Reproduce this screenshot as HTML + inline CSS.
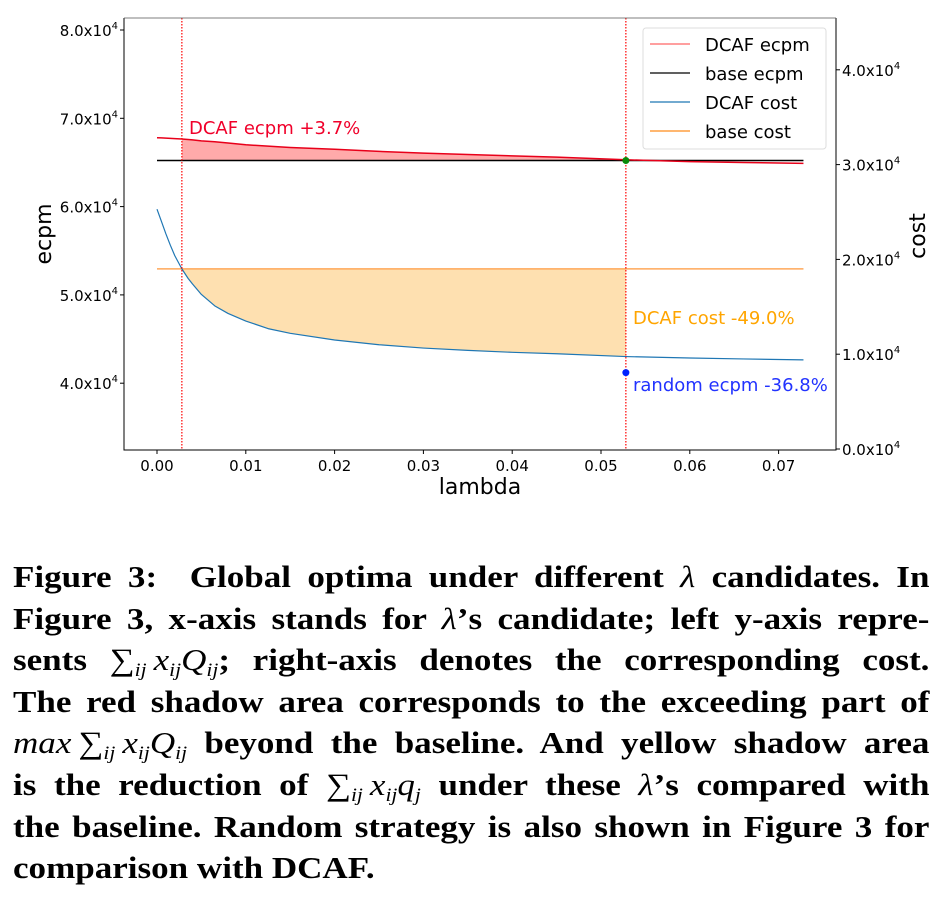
<!DOCTYPE html>
<html><head><meta charset="utf-8">
<style>
body{margin:0;background:#fff;width:946px;height:900px;overflow:hidden;position:relative;}
svg{position:absolute;left:0;top:0;}
.cap{position:absolute;left:13px;width:811px;font-family:"Liberation Serif",serif;font-weight:bold;font-size:31px;line-height:41.6px;top:556px;color:#000;transform:scaleX(1.13);transform-origin:0 0;}
.cap div{text-align:justify;text-align-last:justify;white-space:nowrap;height:41.6px;}
.cap div.last{text-align-last:left;}
.cap i{font-weight:normal;}
.cap sub{font-size:19px;font-style:italic;font-weight:normal;vertical-align:-6px;line-height:0;}
.m{white-space:nowrap;font-weight:normal;}
</style></head>
<body>
<svg id="chart" width="946" height="520"></svg>
<div class="cap">
<div>Figure 3: &nbsp;Global optima under different <i>λ</i> candidates. In</div>
<div>Figure 3, x-axis stands for <i>λ</i>’s candidate; left y-axis repre-</div>
<div>sents <span class="m">∑<sub>ij</sub>&#8201;<i>x</i><sub>ij</sub><i>Q</i><sub>ij</sub></span>; right-axis denotes the corresponding cost.</div>
<div>The red shadow area corresponds to the exceeding part of</div>
<div><span class="m"><i>max</i>&#8201;∑<sub>ij</sub>&#8201;<i>x</i><sub>ij</sub><i>Q</i><sub>ij</sub></span> beyond the baseline. And yellow shadow area</div>
<div>is the reduction of <span class="m">∑<sub>ij</sub>&#8201;<i>x</i><sub>ij</sub><i>q</i><sub>j</sub></span> under these <i>λ</i>’s compared with</div>
<div>the baseline. Random strategy is also shown in Figure 3 for</div>
<div class="last">comparison with DCAF.</div>
</div>
<script>
const lambdas=[0,0.0005,0.001,0.0015,0.002,0.0028,0.0035,0.004,0.005,0.0065,0.008,0.01,0.0125,0.015,0.02,0.025,0.03,0.035,0.04,0.045,0.0528,0.06,0.066,0.0728];
const dcafEcpm=[6.78,6.778,6.775,6.772,6.77,6.765,6.76,6.755,6.745,6.735,6.72,6.70,6.685,6.67,6.65,6.625,6.605,6.59,6.575,6.56,6.53,6.51,6.50,6.49];
const dcafCost=[2.53,2.40,2.27,2.15,2.04,1.90,1.80,1.74,1.63,1.51,1.43,1.35,1.27,1.22,1.15,1.10,1.065,1.04,1.02,1.005,0.975,0.96,0.95,0.94];
const baseEcpm=6.522, baseCost=1.90;
const leftTicks=[4,5,6,7,8], rightTicks=[0,1,2,3,4], xTicks=[0,0.01,0.02,0.03,0.04,0.05,0.06,0.07];
const vLines=[0.0028,0.0528];
const randomEcpm=4.12;
const NS="http://www.w3.org/2000/svg";
const svg=document.getElementById('chart');
const L=124,R=836,T=18,B=450;
const X=v=>157+v*8880;
const YL=v=>30+(8-v)*88.3;
const YR=v=>449-v*94.8;
function el(t,a,p){const e=document.createElementNS(NS,t);for(const k in a)e.setAttribute(k,a[k]);(p||svg).appendChild(e);return e;}
function txt(s,a){const e=el('text',Object.assign({'font-family':'DejaVu Sans, Liberation Sans, sans-serif'},a));e.innerHTML=s;return e;}
const n=lambdas.length, x0=lambdas[n-1];
let i0=lambdas.indexOf(vLines[0]), i1=lambdas.indexOf(vLines[1]);
let d='M'+X(lambdas[i0])+','+YL(baseEcpm);
for(let i=i0;i<=i1;i++)d+=' L'+X(lambdas[i])+','+YL(dcafEcpm[i]);
d+=' L'+X(lambdas[i1])+','+YL(baseEcpm)+'Z';
let f=el('path',{d:d,fill:'#ffaaaa'});


d='M'+X(lambdas[i0])+','+YR(baseCost);
for(let i=i0;i<=i1;i++)d+=' L'+X(lambdas[i])+','+YR(dcafCost[i]);
d+=' L'+X(lambdas[i1])+','+YR(baseCost)+'Z';
f=el('path',{d:d,fill:'#fee0b0'});


function poly(vals,Y,color,name,w){const p=el('polyline',{points:lambdas.map((l,i)=>X(l)+','+Y(vals[i])).join(' '),fill:'none',stroke:color,'stroke-width':w||1.3,'stroke-linejoin':'round'});

}
let ln=el('line',{x1:X(0),x2:X(x0),y1:YL(baseEcpm),y2:YL(baseEcpm),stroke:'#000','stroke-width':1.5});


ln=el('line',{x1:X(0),x2:X(x0),y1:YR(baseCost),y2:YR(baseCost),stroke:'#ffa85a','stroke-width':1.5});


poly(dcafEcpm,YL,'#e8001a','dcaf-ecpm-line',1.5);
poly(dcafCost,YR,'#1f77b4','dcaf-cost-line',1.2);
vLines.forEach(v=>{const l=el('line',{x1:X(v),x2:X(v),y1:T,y2:B,stroke:'#ff0000','stroke-width':1.2,'stroke-dasharray':'1.5,1.5'});

});
let c=el('circle',{cx:X(vLines[1]),cy:YL(baseEcpm),r:3.5,fill:'#0a8a0a'});


c=el('circle',{cx:X(vLines[1]),cy:YL(randomEcpm),r:3.5,fill:'#0022ff'});


let t=txt('DCAF ecpm +3.7%',{x:189,y:134,'font-size':18,fill:'#f0002a'});


t=txt('DCAF cost -49.0%',{x:633,y:324,'font-size':18,fill:'#ffa500'});


t=txt('random ecpm -36.8%',{x:633,y:391,'font-size':18,fill:'#2233ff'});


let fr=el('path',{d:`M${L},${T}L${L},${B}L${R},${B}L${R},${T}`,fill:'none',stroke:'#000','stroke-width':1});


el('line',{x1:L,x2:R,y1:T,y2:T,stroke:'#555','stroke-width':0.8});
leftTicks.forEach(v=>{const y=YL(v);el('line',{x1:L-4,x2:L,y1:y,y2:y,stroke:'#000'});
 const t=txt(v.toFixed(1)+'x10<tspan dy="-7" font-size="10">4</tspan>',{x:L-6,y:y+6,'font-size':15,'text-anchor':'end'});
 
 });
rightTicks.forEach(v=>{const y=YR(v);el('line',{x1:R,x2:R+4,y1:y,y2:y,stroke:'#000'});
 const t=txt(v.toFixed(1)+'x10<tspan dy="-7" font-size="10">4</tspan>',{x:R+6,y:y+6,'font-size':15});
 
 });
xTicks.forEach(v=>{const x=X(v);el('line',{x1:x,x2:x,y1:B,y2:B+4,stroke:'#000'});
 const t=txt(v.toFixed(2),{x:x,y:B+21,'font-size':15,'text-anchor':'middle'});
 
 });
t=txt('lambda',{x:480,y:494,'font-size':22,'text-anchor':'middle'});


t=txt('ecpm',{x:0,y:0,'font-size':22,'text-anchor':'middle',transform:'translate(51,234) rotate(-90)'});


t=txt('cost',{x:0,y:0,'font-size':22,'text-anchor':'middle',transform:'translate(925,236) rotate(-90)'});


const lg=el('g',{});


el('rect',{x:643,y:28,width:183,height:121,rx:3,fill:'#fff',stroke:'#ddd'},lg);
[['DCAF ecpm','#ff6666'],['base ecpm','#000'],['DCAF cost','#1f77b4'],['base cost','#ff8c1a']].forEach((e,i)=>{
 const g=el('g',{},lg);
 
 
 const y=44+i*29;el('line',{x1:650,x2:690,y1:y,y2:y,stroke:e[1],'stroke-width':1.3},g);
 const tt=txt(e[0],{x:705,y:y+7,'font-size':18});g.appendChild(tt);});
</script>
</body></html>
